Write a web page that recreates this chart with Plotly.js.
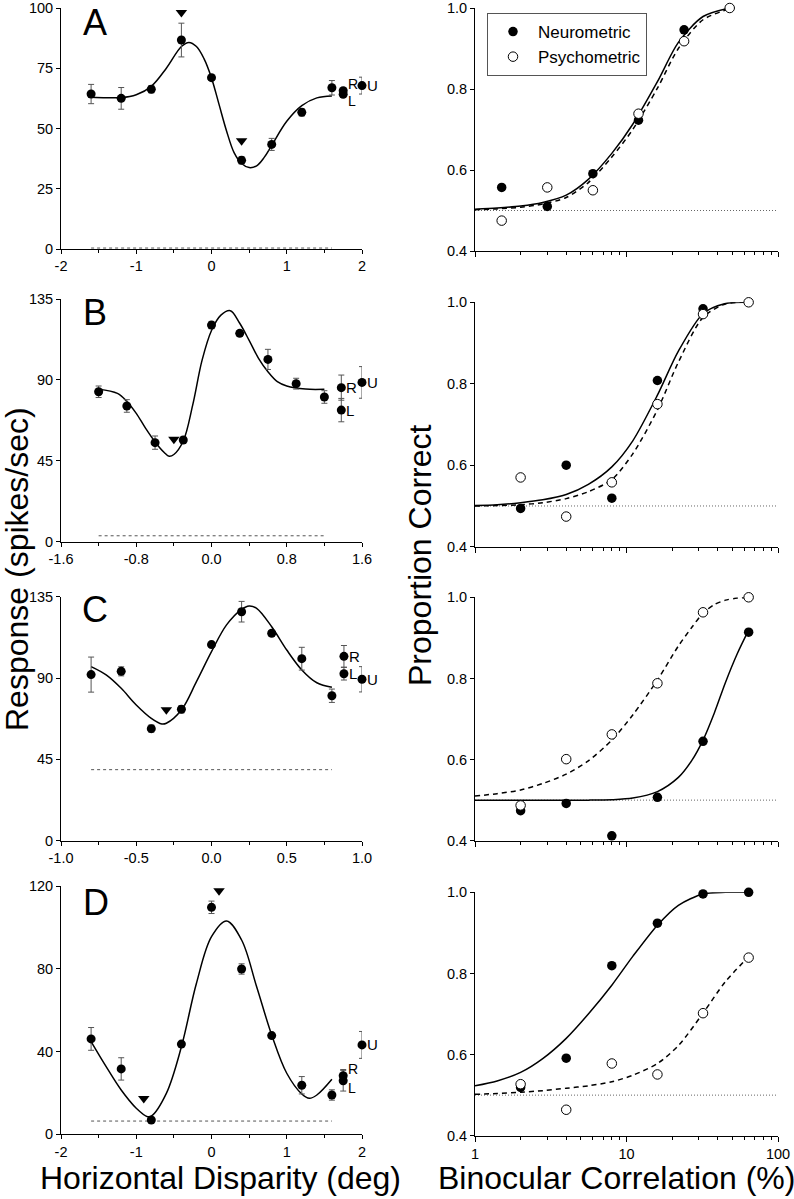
<!DOCTYPE html>
<html>
<head>
<meta charset="utf-8">
<script src="https://cdn.plot.ly/plotly-3.0.1.min.js"></script>
<style>html,body{margin:0;padding:0;background:#fff;}#chart{width:794px;height:1199px;}</style>
</head>
<body>
<div id="chart"></div>
<script>
// ---------- Left column: disparity tuning (spikes/sec) ----------
const panelLetters = ['A', 'B', 'C', 'D'];
const monoLabels = ['R', 'L', 'U'];

// Panel A
const dispA = [-1.6, -1.2, -0.8, -0.4, 0, 0.4, 0.8, 1.2, 1.6];
const respA = [64.3, 62.5, 66.3, 86.7, 71.1, 36.8, 43.4, 56.7, 66.9];
const errA = [4, 4.5, 1.5, 7, 1, 1.5, 2.5, 1.5, 3];
const monoXA = [1.75, 1.75, 2.0];
const monoYA = [65.7, 64.2, 67.8];
const monoErrA = [1, 1, 3.5];
const triXA = [-0.4, 0.4];
const triYA = [98.1, 44.9];
const baseXA = [-1.6, 1.6];
const baseYA = [0.4, 0.4];
const fitXA = [-1.6, -1.4, -1.2, -1.0, -0.8, -0.6, -0.4, -0.3, -0.2, -0.1, 0, 0.1, 0.2, 0.3, 0.4, 0.5, 0.6, 0.7, 0.8, 1.0, 1.2, 1.4, 1.6];
const fitYA = [63, 62.8, 62.8, 64, 67.5, 75, 84, 85.7, 84, 79, 71, 60, 49, 40, 35.5, 33.8, 34.5, 38, 43, 53, 59.5, 62.7, 63.5];

// Panel B
const dispB = [-1.2, -0.9, -0.6, -0.3, 0, 0.3, 0.6, 0.9, 1.2];
const respB = [83.4, 75.5, 55.1, 56.6, 120.5, 115.9, 101.4, 87.9, 80.5];
const errB = [3.2, 3.5, 3.7, 1.5, 2, 1.5, 5.6, 3, 3.5];
const monoXB = [1.38, 1.38, 1.6];
const monoYB = [85.7, 73.2, 88.6];
const monoErrB = [7, 6.5, 8.8];
const triXB = [-0.4, 0.2];
const triYB = [57, 135.8];
const baseXB = [-1.2, 1.2];
const baseYB = [3.3, 3.3];
const fitXB = [-1.2, -1.0, -0.9, -0.8, -0.7, -0.6, -0.5, -0.45, -0.4, -0.3, -0.2, -0.1, 0, 0.1, 0.2, 0.3, 0.4, 0.5, 0.6, 0.7, 0.8, 1.0, 1.2];
const fitYB = [84.8, 82.5, 78, 71.4, 63, 55.5, 49.5, 47.5, 48.5, 56, 76, 101, 117.5, 126, 128.5, 121.5, 112, 102, 94.5, 89, 86.6, 84.9, 84.8];

// Panel C
const dispC = [-0.8, -0.6, -0.4, -0.2, 0, 0.2, 0.4, 0.6, 0.8];
const respC = [91.9, 93.7, 62, 72.7, 108.5, 126.7, 114.8, 100.7, 80.2];
const errC = [9.7, 2.5, 2, 2, 1, 5.7, 1.5, 6.3, 3.7];
const monoXC = [0.88, 0.88, 1.0];
const monoYC = [102, 92.4, 89.3];
const monoErrC = [6, 3.5, 7];
const triXC = [-0.3, 0.25];
const triYC = [72.4, 137.4];
const baseXC = [-0.8, 0.8];
const baseYC = [39.3, 39.3];
const fitXC = [-0.8, -0.7, -0.6, -0.5, -0.4, -0.33, -0.3, -0.2, -0.1, 0, 0.1, 0.2, 0.25, 0.3, 0.4, 0.5, 0.6, 0.7, 0.8];
const fitYC = [96.3, 91.7, 84.3, 75.1, 67.7, 64.6, 65, 72.3, 88, 104.6, 119.4, 128, 129.9, 128.6, 118.4, 105.5, 94.5, 87.4, 84.9];

// Panel D
const dispD = [-1.6, -1.2, -0.8, -0.4, 0, 0.4, 0.8, 1.2, 1.6];
const respD = [46.1, 31.6, 6.9, 43.6, 109.7, 79.9, 47.7, 23.7, 19];
const errD = [5.5, 5.4, 1, 1, 3, 2.5, 1, 4.2, 2.5];
const monoXD = [1.75, 1.75, 2.0];
const monoYD = [28.3, 25.9, 43.2];
const monoErrD = [3, 5, 6.5];
const triXD = [-0.9, 0.1];
const triYD = [17.3, 117.7];
const baseXD = [-1.6, 1.6];
const baseYD = [6.4, 6.4];
const fitXD = [-1.6, -1.4, -1.2, -1.0, -0.85, -0.8, -0.6, -0.4, -0.2, 0, 0.2, 0.4, 0.6, 0.8, 1.0, 1.2, 1.3, 1.4, 1.6];
const fitYD = [44.8, 32.7, 21.4, 12.6, 8.5, 8.8, 19.8, 42.3, 73, 95.5, 103.1, 93.9, 71.3, 48, 29.5, 19.5, 17.4, 19, 26.6];

// ---------- Right column: neurometric / psychometric ----------
const chanceX = [1, 100];
const chanceY = [0.5, 0.5];
// fitted-curve sample positions (binocular correlation, %)
const fitCorr = [1, 1.4, 2, 2.8, 4, 5.6, 8, 11, 16, 22, 32, 45, 64];
const fitCorrC = [1, 1.4, 2, 2.8, 4, 5.6, 8, 11, 16, 22, 27, 32, 38, 45, 54, 64];

const corrA = [1.5, 3, 6, 12, 24, 48];
const neuroCorrA = [1.5, 3, 6, 12, 24];
const neuroA = [0.557, 0.510, 0.591, 0.723, 0.946];
const psychA = [0.475, 0.557, 0.550, 0.739, 0.918, 1.0];
const fitCorrA = [1, 1.4, 2, 2.8, 4, 5.6, 8, 11, 16, 22, 32, 48];
const neuroFitA = [0.503, 0.506, 0.511, 0.520, 0.538, 0.577, 0.641, 0.713, 0.818, 0.915, 0.979, 1.0];
const psychFitA = [0.502, 0.504, 0.508, 0.516, 0.532, 0.569, 0.632, 0.700, 0.802, 0.900, 0.971, 0.998];

const corrB = [2, 4, 8, 16, 32, 64];
const neuroCorrB = [2, 4, 8, 16, 32];
const neuroB = [0.494, 0.600, 0.519, 0.808, 0.984];
const psychB = [0.570, 0.474, 0.558, 0.750, 0.971, 1.0];
const neuroFitB = [0.501, 0.503, 0.508, 0.515, 0.528, 0.553, 0.596, 0.660, 0.772, 0.880, 0.972, 0.997, 1.0];
const psychFitB = [0.500, 0.501, 0.503, 0.508, 0.518, 0.535, 0.565, 0.628, 0.736, 0.853, 0.963, 0.996, 1.0];

const corrC = [2, 4, 8, 16, 32, 64];
const neuroC = [0.474, 0.492, 0.412, 0.507, 0.645, 0.914];
const psychC = [0.487, 0.601, 0.662, 0.788, 0.963, 1.0];
const neuroFitC = [0.5, 0.5, 0.5, 0.5, 0.5, 0.5, 0.501, 0.505, 0.521, 0.556, 0.598, 0.648, 0.715, 0.790, 0.862, 0.919];
const psychFitC = [0.510, 0.516, 0.525, 0.541, 0.564, 0.597, 0.648, 0.710, 0.796, 0.880, 0.926, 0.961, 0.982, 0.993, 0.998, 1.0];

const corrD = [2, 4, 8, 16, 32, 64];
const neuroD = [0.519, 0.591, 0.819, 0.924, 0.996, 1.0];
const psychD = [0.527, 0.464, 0.578, 0.551, 0.702, 0.839];
const neuroFitD = [0.523, 0.535, 0.556, 0.590, 0.640, 0.700, 0.771, 0.842, 0.919, 0.968, 0.996, 1.0, 1.0];
const psychFitD = [0.502, 0.504, 0.507, 0.511, 0.517, 0.523, 0.533, 0.549, 0.578, 0.622, 0.702, 0.780, 0.841];

// tick labels
const tickA = { vals: [-2, -1, 0, 1, 2], text: ['-2', '-1', '0', '1', '2'] };
const tickB = { vals: [-1.6, -0.8, 0, 0.8, 1.6], text: ['-1.6', '-0.8', '0.0', '0.8', '1.6'] };
const tickC = { vals: [-1, -0.5, 0, 0.5, 1], text: ['-1.0', '-0.5', '0.0', '0.5', '1.0'] };
const tickD = { vals: [-2, -1, 0, 1, 2], text: ['-2', '-1', '0', '1', '2'] };
const yTickA = [0, 25, 50, 75, 100];
const yTickB = [0, 45, 90, 135];
const yTickC = [0, 45, 90, 135];
const yTickD = [0, 40, 80, 120];
const pTickVals = [0.4, 0.6, 0.8, 1.0];
const pTickText = ['0.4', '0.6', '0.8', '1.0'];
const cTickVals = [1, 10, 100];
const cTickText = ['1', '10', '100'];

// ---------- build ----------
const FONT = 'Arial, "Liberation Sans", sans-serif';
const TICKSIZE = 14.5;
const W = 794, H = 1199;
const fx = px => px / W;
const fy = py => 1 - py / H;

const traces = [];
const annotations = [];
const layout = {
  width: W, height: H,
  margin: { l: 0, r: 0, t: 0, b: 0 },
  paper_bgcolor: '#fff', plot_bgcolor: 'rgba(0,0,0,0)',
  font: { family: FONT, color: '#000' },
  showlegend: true,
  legend: {
    x: fx(487), y: fy(13), xanchor: 'left', yanchor: 'top',
    bgcolor: '#fff', bordercolor: '#555', borderwidth: 1,
    font: { family: FONT, size: 17, color: '#000' },
    itemwidth: 40, tracegroupgap: 0
  },
  annotations: annotations
};

const errStyle = (arr) => ({ type: 'data', array: arr, visible: true, color: '#555', thickness: 1, width: 3 });
const labelShift = { R: 7, L: -7, U: 0 };

function leftPanel(i, d) {
  const xa = 'x' + (2 * i + 1), ya = 'y' + (2 * i + 1);
  traces.push({ x: d.baseX, y: d.baseY, xaxis: xa, yaxis: ya, mode: 'lines', showlegend: false, hoverinfo: 'skip',
    line: { color: '#555', width: 1, dash: '3px,3px' } });
  traces.push({ x: d.fitX, y: d.fitY, xaxis: xa, yaxis: ya, mode: 'lines', showlegend: false,
    line: { color: '#000', width: 1.5, shape: 'spline', smoothing: 1 } });
  traces.push({ x: d.disp, y: d.resp, xaxis: xa, yaxis: ya, mode: 'markers', showlegend: false, cliponaxis: false,
    error_y: errStyle(d.err), marker: { symbol: 'circle', size: 9, color: '#000' } });
  traces.push({ x: d.monoX, y: d.monoY, xaxis: xa, yaxis: ya, mode: 'markers', showlegend: false, cliponaxis: false,
    error_y: errStyle(d.monoErr), marker: { symbol: 'circle', size: 9, color: '#000' } });
  traces.push({ x: d.triX, y: d.triY, xaxis: xa, yaxis: ya, mode: 'markers', showlegend: false, cliponaxis: false,
    marker: { symbol: 'triangle-down', size: 10, color: '#000' } });
  monoLabels.forEach((t, k) => {
    annotations.push({ xref: xa, yref: ya, x: d.monoX[k], y: d.monoY[k], text: t, showarrow: false,
      xanchor: 'left', yanchor: 'middle', xshift: 3, yshift: d.tight ? labelShift[t] : 0,
      font: { family: FONT, size: d.tight && t !== 'U' ? 14 : 15, color: '#000' } });
  });
  layout['xaxis' + (2 * i + 1)] = {
    domain: [fx(61), fx(362)], anchor: ya, range: d.xrange,
    tickmode: 'array', tickvals: d.ticks.vals, ticktext: d.ticks.text,
    showline: true, linecolor: '#000', linewidth: 1, ticks: 'outside', ticklen: 4, tickcolor: '#000',
    minor: { dtick: d.minor, tick0: 0, ticks: 'outside', ticklen: 3, tickcolor: '#000', showgrid: false },
    showgrid: false, zeroline: false, tickfont: { family: FONT, size: TICKSIZE, color: '#000' }
  };
  layout['yaxis' + (2 * i + 1)] = {
    domain: d.ydom, anchor: xa, range: d.yrange,
    tickmode: 'array', tickvals: d.yticks,
    showline: true, linecolor: '#000', linewidth: 1, ticks: 'outside', ticklen: 4, tickcolor: '#000',
    showgrid: false, zeroline: false, tickfont: { family: FONT, size: TICKSIZE, color: '#000' }
  };
}

function rightPanel(i, d) {
  const xa = 'x' + (2 * i + 2), ya = 'y' + (2 * i + 2);
  traces.push({ x: chanceX, y: chanceY, xaxis: xa, yaxis: ya, mode: 'lines', showlegend: false, hoverinfo: 'skip',
    line: { color: '#666', width: 1, dash: '1px,2px' } });
  traces.push({ x: d.nFitX, y: d.nFit, xaxis: xa, yaxis: ya, mode: 'lines', showlegend: false,
    line: { color: '#000', width: 1.5, shape: 'spline', smoothing: 0.8 } });
  traces.push({ x: d.pFitX, y: d.pFit, xaxis: xa, yaxis: ya, mode: 'lines', showlegend: false,
    line: { color: '#000', width: 1.5, shape: 'spline', smoothing: 0.8, dash: '5px,4px' } });
  traces.push({ x: d.nX, y: d.n, xaxis: xa, yaxis: ya, mode: 'markers', name: 'Neurometric', showlegend: i === 0,
    cliponaxis: false, marker: { symbol: 'circle', size: 9.5, color: '#000' } });
  traces.push({ x: d.pX, y: d.p, xaxis: xa, yaxis: ya, mode: 'markers', name: 'Psychometric', showlegend: i === 0,
    cliponaxis: false, marker: { symbol: 'circle', size: 9.5, color: '#fff', line: { color: '#000', width: 1 } } });
  layout['xaxis' + (2 * i + 2)] = {
    domain: [fx(475), fx(778)], anchor: ya, type: 'log', range: [0, 2],
    tickmode: 'array', tickvals: cTickVals, ticktext: cTickText, showticklabels: i === 3,
    showline: true, linecolor: '#000', linewidth: 1, ticks: 'outside', ticklen: 5, tickcolor: '#000',
    minor: { dtick: 'D1', ticks: 'outside', ticklen: 3, tickcolor: '#000', showgrid: false },
    showgrid: false, zeroline: false, tickfont: { family: FONT, size: TICKSIZE, color: '#000' }
  };
  layout['yaxis' + (2 * i + 2)] = {
    domain: d.ydom, anchor: xa, range: [0.4, 1.0],
    tickmode: 'array', tickvals: pTickVals, ticktext: pTickText,
    showline: true, linecolor: '#000', linewidth: 1, ticks: 'outside', ticklen: 4, tickcolor: '#000',
    showgrid: false, zeroline: false, tickfont: { family: FONT, size: TICKSIZE, color: '#000' }
  };
}

leftPanel(0, { disp: dispA, resp: respA, err: errA, monoX: monoXA, monoY: monoYA, monoErr: monoErrA, triX: triXA, triY: triYA, tight: true,
  baseX: baseXA, baseY: baseYA, fitX: fitXA, fitY: fitYA, xrange: [-2, 2], ticks: tickA, minor: 0.5, yticks: yTickA, yrange: [0, 100], ydom: [fy(249), fy(8)] });
leftPanel(1, { disp: dispB, resp: respB, err: errB, monoX: monoXB, monoY: monoYB, monoErr: monoErrB, triX: triXB, triY: triYB, tight: false,
  baseX: baseXB, baseY: baseYB, fitX: fitXB, fitY: fitYB, xrange: [-1.6, 1.6], ticks: tickB, minor: 0.4, yticks: yTickB, yrange: [0, 135], ydom: [fy(541.7), fy(299)] });
leftPanel(2, { disp: dispC, resp: respC, err: errC, monoX: monoXC, monoY: monoYC, monoErr: monoErrC, triX: triXC, triY: triYC, tight: false,
  baseX: baseXC, baseY: baseYC, fitX: fitXC, fitY: fitYC, xrange: [-1, 1], ticks: tickC, minor: 0.25, yticks: yTickC, yrange: [0, 135], ydom: [fy(840.7), fy(596.7)] });
leftPanel(3, { disp: dispD, resp: respD, err: errD, monoX: monoXD, monoY: monoYD, monoErr: monoErrD, triX: triXD, triY: triYD, tight: true,
  baseX: baseXD, baseY: baseYD, fitX: fitXD, fitY: fitYD, xrange: [-2, 2], ticks: tickD, minor: 0.5, yticks: yTickD, yrange: [0, 120], ydom: [fy(1134.3), fy(886)] });

rightPanel(0, { nX: neuroCorrA, n: neuroA, pX: corrA, p: psychA, nFitX: fitCorrA, nFit: neuroFitA, pFitX: fitCorrA, pFit: psychFitA, ydom: [fy(251), fy(8)] });
rightPanel(1, { nX: neuroCorrB, n: neuroB, pX: corrB, p: psychB, nFitX: fitCorr, nFit: neuroFitB, pFitX: fitCorr, pFit: psychFitB, ydom: [fy(546.7), fy(302.3)] });
rightPanel(2, { nX: corrC, n: neuroC, pX: corrC, p: psychC, nFitX: fitCorrC, nFit: neuroFitC, pFitX: fitCorrC, pFit: psychFitC, ydom: [fy(840.7), fy(597.3)] });
rightPanel(3, { nX: corrD, n: neuroD, pX: corrD, p: psychD, nFitX: fitCorr, nFit: neuroFitD, pFitX: fitCorr, pFit: psychFitD, ydom: [fy(1135.7), fy(892.3)] });

// panel letters
const letterPos = [[95, 22.5], [95, 312.5], [95, 609], [95.5, 902.5]];
panelLetters.forEach((t, k) => {
  annotations.push({ xref: 'paper', yref: 'paper', x: fx(letterPos[k][0]), y: fy(letterPos[k][1]), text: t, showarrow: false,
    xanchor: 'center', yanchor: 'middle', font: { family: FONT, size: 36, color: '#000' } });
});

// big axis titles
const bigFont = { family: FONT, size: 32, color: '#000' };
annotations.push({ xref: 'paper', yref: 'paper', x: fx(17), y: fy(569), text: 'Response (spikes/sec)', textangle: -90,
  showarrow: false, xanchor: 'center', yanchor: 'middle', font: bigFont });
annotations.push({ xref: 'paper', yref: 'paper', x: fx(420), y: fy(555), text: 'Proportion Correct', textangle: -90,
  showarrow: false, xanchor: 'center', yanchor: 'middle', font: bigFont });
annotations.push({ xref: 'paper', yref: 'paper', x: fx(220.5), y: fy(1178), text: 'Horizontal Disparity (deg)',
  showarrow: false, xanchor: 'center', yanchor: 'middle', font: bigFont });
annotations.push({ xref: 'paper', yref: 'paper', x: fx(616), y: fy(1178), text: 'Binocular Correlation (%)',
  showarrow: false, xanchor: 'center', yanchor: 'middle', font: bigFont });

Plotly.newPlot('chart', traces, layout, { staticPlot: true, displayModeBar: false });
</script>
</body>
</html>
